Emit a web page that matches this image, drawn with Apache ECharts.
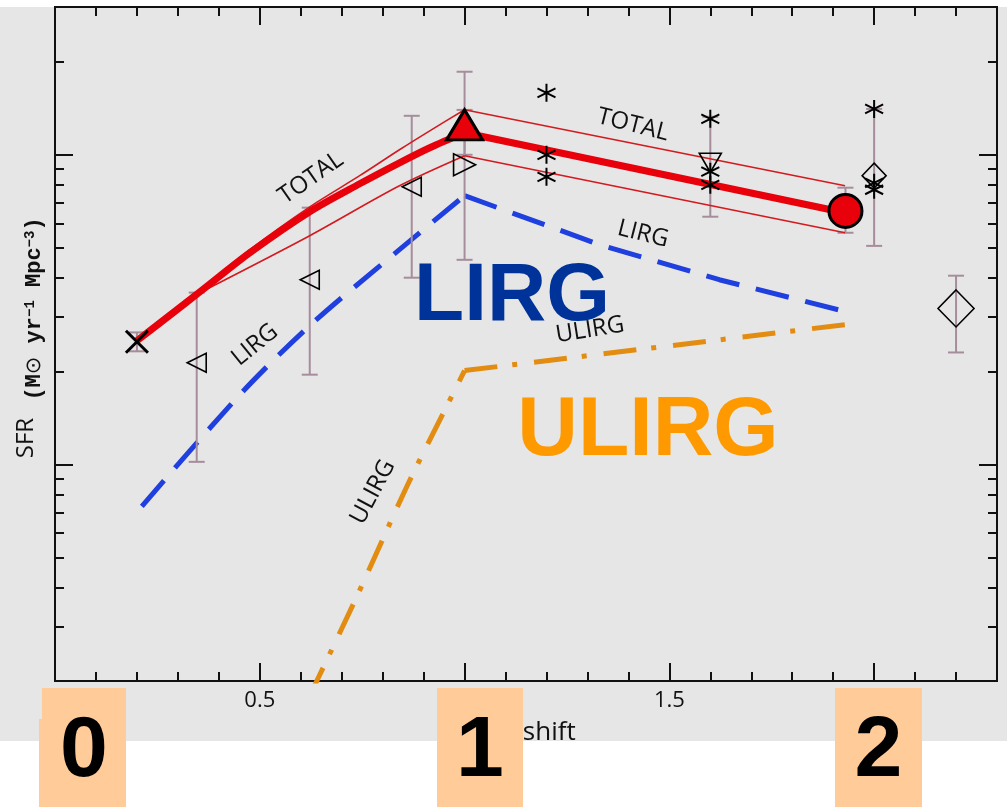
<!DOCTYPE html>
<html>
<head>
<meta charset="utf-8">
<script src="https://cdn.jsdelivr.net/npm/echarts@6/dist/echarts.min.js"></script>
<style>
  html, body { margin: 0; padding: 0; background: #ffffff; }
  #chart { width: 1007px; height: 807px; }
</style>
</head>
<body>
<div id="chart"></div>
<script>
// ---- axes -------------------------------------------------------------
const xRange = [0, 2.3];
const xMajorTicks = [0, 0.5, 1, 1.5, 2];
const xLabelTicks = [0.5, 1.5];
const xTickLabels = ['0.5', '1.5'];
const xMinorTicks = [0.1, 0.2, 0.3, 0.4, 0.6, 0.7, 0.8, 0.9, 1.1, 1.2, 1.3, 1.4,
                     1.6, 1.7, 1.8, 1.9, 2.1, 2.2];
const yRange = [0.002, 0.3];
const yMajorTicks = [0.01, 0.1];
const yMinorTicks = [0.003, 0.004, 0.005, 0.006, 0.007, 0.008, 0.009,
                     0.02, 0.03, 0.04, 0.05, 0.06, 0.07, 0.08, 0.09, 0.2];

// ---- model curves (redshift, SFR density) -----------------------------
const totalZ   = [0.2, 0.28, 0.354, 0.476, 0.622, 0.744, 0.841, 0.915, 1.0, 1.929];
const totalSFR = [0.0251, 0.0303, 0.0361, 0.0483, 0.0655, 0.0806, 0.0942, 0.1054, 0.1178, 0.0650];

const totalHiZ   = [0.354, 0.476, 0.622, 0.744, 0.841, 0.915, 1.0, 1.929];
const totalHiSFR = [0.0364, 0.0494, 0.0679, 0.0856, 0.1038, 0.1195, 0.1397, 0.0794];

const totalLoZ   = [0.354, 0.622, 0.841, 1.0, 1.929];
const totalLoSFR = [0.0359, 0.0548, 0.0794, 0.0993, 0.0560];

const lirgZ   = [0.212, 0.456, 0.63, 0.841, 1.0, 1.329, 1.622, 1.92];
const lirgSFR = [0.00733, 0.01706, 0.0287, 0.0494, 0.0738, 0.0513, 0.0395, 0.0314];

const ulirgZ   = [0.62, 0.737, 0.859, 0.956, 1.0, 1.93];
const ulirgSFR = [0.00177, 0.00375, 0.00849, 0.01538, 0.0201, 0.0283];

// ---- measurements -------------------------------------------------------
const crossZ = [0.2],  crossSFR = [0.0249], crossLo = [0.0232], crossHi = [0.0267];
const leftTriZ = [0.346, 0.622, 0.871];
const leftTriSFR = [0.0213, 0.0395, 0.0788];
const leftTriLo  = [0.0102, 0.0195, 0.0401];
const leftTriHi  = [0.0359, 0.0675, 0.1336];
const rightTriZ = [1.0], rightTriSFR = [0.0929], rightTriLo = [0.0458], rightTriHi = [0.1854];
const redTriZ = [1.0],   redTriSFR = [0.125],    redTriLo = [0.100],    redTriHi = [0.1396];
const downTriZ = [1.6],  downTriSFR = [0.0942],  downTriLo = [0.0631],  downTriHi = [0.1327];
const redDotZ = [1.93],  redDotSFR = [0.0659],   redDotLo = [0.0560],   redDotHi = [0.0783];
const diamondZ = [2.0],  diamondSFR = [0.0856],  diamondLo = [0.0508],  diamondHi = [0.1406];
const bigDiamondZ = [2.2], bigDiamondSFR = [0.0319], bigDiamondLo = [0.0230], bigDiamondHi = [0.0407];
const starZ   = [1.2, 1.2, 1.2, 1.6, 1.6, 1.6, 2.0, 2.0, 2.0];
const starSFR = [0.1585, 0.1, 0.0849, 0.1306, 0.0882, 0.080, 0.1406, 0.0812, 0.0771];

// ---- helpers -------------------------------------------------------------
const zip = (xs, ys) => xs.map((x, i) => [x, ys[i]]);
const bars = (xs, lo, hi) => xs.map((x, i) => [x, lo[i], hi[i]]);
// split a curve at the z = 1 turnover: the rising branch is drawn smooth
const rising  = d => d.filter(p => p[0] <= 1);
const falling = d => d.filter(p => p[0] >= 1);
const L10 = Math.log10;
const INK = '#111111';
const RED = '#e8000b';
const BAR = '#a68d9c';

function xTickAxis(position, ticks, len, extra) {
  return Object.assign({
    type: 'value', position: position, min: xRange[0], max: xRange[1],
    axisLine: { show: true, onZero: false, lineStyle: { color: INK, width: 2 } },
    axisTick: { show: true, inside: true, length: len, customValues: ticks,
                lineStyle: { color: INK, width: 2 } },
    axisLabel: { show: false },
    splitLine: { show: false }
  }, extra || {});
}
function yTickAxis(position, ticks, len, showLine) {
  return {
    type: 'value', position: position, min: L10(yRange[0]), max: L10(yRange[1]),
    axisLine: { show: showLine, onZero: false, lineStyle: { color: INK, width: 2 } },
    axisTick: { show: true, inside: true, length: len, customValues: ticks.map(L10),
                lineStyle: { color: INK, width: 2 } },
    axisLabel: { show: false },
    splitLine: { show: false }
  };
}

const barSeries = {
  type: 'custom',
  z: 3,
  silent: true,
  encode: { x: 0, y: [1, 2] },
  data: [].concat(
    bars(crossZ, crossLo, crossHi),
    bars(leftTriZ, leftTriLo, leftTriHi),
    bars(rightTriZ, rightTriLo, rightTriHi),
    bars(redTriZ, redTriLo, redTriHi),
    bars(downTriZ, downTriLo, downTriHi),
    bars(redDotZ, redDotLo, redDotHi),
    bars(diamondZ, diamondLo, diamondHi),
    bars(bigDiamondZ, bigDiamondLo, bigDiamondHi)
  ),
  renderItem: function (params, api) {
    const lo = api.coord([api.value(0), api.value(1)]);
    const hi = api.coord([api.value(0), api.value(2)]);
    const cap = 8;
    const st = { stroke: BAR, lineWidth: 2 };
    return {
      type: 'group',
      children: [
        { type: 'line', shape: { x1: lo[0], y1: lo[1], x2: hi[0], y2: hi[1] }, style: st },
        { type: 'line', shape: { x1: lo[0] - cap, y1: lo[1], x2: lo[0] + cap, y2: lo[1] }, style: st },
        { type: 'line', shape: { x1: hi[0] - cap, y1: hi[1], x2: hi[0] + cap, y2: hi[1] }, style: st }
      ]
    };
  }
};

function curve(data, color, width, type, z, smooth) {
  return {
    type: 'line', data: data, showSymbol: false, symbol: 'none', z: z, silent: true,
    smooth: smooth || false,
    lineStyle: { color: color, width: width, type: type, cap: 'butt', join: 'round' }
  };
}
function branches(data, color, width, type, z) {
  return [
    curve(rising(data), color, width, type, z, 0.3),
    curve(falling(data), color, width, type, z, false)
  ];
}
function marks(data, symbol, size, rotate, fill, stroke, bw) {
  return {
    type: 'scatter', data: data, symbol: symbol, symbolSize: size, symbolRotate: rotate,
    z: 6, silent: true,
    itemStyle: { color: fill, borderColor: stroke, borderWidth: bw, opacity: 1 }
  };
}

const CROSS = 'path://M0,0L10,10M10,0L0,10';
const STAR  = 'path://M5,0L5,10M0.7,2.5L9.3,7.5M0.7,7.5L9.3,2.5';

const labelFont = '"Open Sans", "DejaVu Sans", sans-serif';
function note(text, x, y, deg) {
  return {
    type: 'text', x: x, y: y, rotation: deg * Math.PI / 180, z: 20, silent: true,
    style: { text: text, fill: INK, font: '24px ' + labelFont, align: 'center', verticalAlign: 'middle' }
  };
}
function digitBox(label, x, w) {
  return [
    { type: 'rect', z: 60, silent: true, shape: { x: x, y: 688, width: w, height: 119 },
      style: { fill: '#ffcc99' } },
    { type: 'text', z: 61, silent: true, x: x + w / 2, y: 752,
      style: { text: label, fill: '#000', font: 'bold 86px "Liberation Sans", Arial, sans-serif',
               align: 'center', verticalAlign: 'middle' } }
  ];
}

const option = {
  animation: false,
  backgroundColor: '#ffffff',
  grid: { left: 55, right: 10, top: 7, bottom: 126, containLabel: false },
  xAxis: [
    xTickAxis('bottom', xMajorTicks, 18, {
      axisLabel: {
        show: true, customValues: xLabelTicks, margin: 9,
        color: '#111', fontFamily: labelFont, fontSize: 22,
        formatter: v => xTickLabels[xLabelTicks.findIndex(t => Math.abs(t - v) < 1e-9)]
      },
      name: 'Redshift', nameLocation: 'middle', nameGap: 39,
      nameTextStyle: { color: '#111', fontFamily: labelFont, fontSize: 26 }
    }),
    xTickAxis('bottom', xMinorTicks, 9),
    xTickAxis('top', xMajorTicks, 18),
    xTickAxis('top', xMinorTicks, 9)
  ],
  yAxis: [
    {
      type: 'log', logBase: 10, position: 'left', min: yRange[0], max: yRange[1],
      axisLine: { show: true, onZero: false, lineStyle: { color: INK, width: 2 } },
      axisTick: { show: false }, axisLabel: { show: false }, splitLine: { show: false }
    },
    yTickAxis('left', yMajorTicks, 18, false),
    yTickAxis('left', yMinorTicks, 9, false),
    yTickAxis('right', yMajorTicks, 18, true),
    yTickAxis('right', yMinorTicks, 9, false)
  ],
  series: [].concat(
    [barSeries],
    branches(zip(ulirgZ, ulirgSFR), '#e38c12', 5, [33, 15, 5, 17], 2),
    branches(zip(lirgZ, lirgSFR), '#1f3fdf', 5, [34, 17], 2),
    branches(zip(totalHiZ, totalHiSFR), '#d41a1f', 1.6, 'solid', 4),
    branches(zip(totalLoZ, totalLoSFR), '#d41a1f', 1.6, 'solid', 4),
    branches(zip(totalZ, totalSFR), RED, 7, 'solid', 4),
    [
      marks(zip(crossZ, crossSFR), CROSS, 22, 0, 'transparent', '#000', 3),
      marks(zip(leftTriZ, leftTriSFR), 'triangle', 19, 90, 'transparent', '#000', 1.6),
      marks(zip(rightTriZ, rightTriSFR), 'triangle', 22, -90, 'transparent', '#000', 1.6),
      marks(zip(downTriZ, downTriSFR), 'triangle', [22, 19], 180, 'transparent', '#000', 1.6),
      marks(zip(diamondZ, diamondSFR), 'diamond', [24, 25], 0, 'transparent', '#000', 1.6),
      marks(zip(bigDiamondZ, bigDiamondSFR), 'diamond', [36, 37], 0, 'transparent', '#000', 1.6),
      marks(zip(starZ, starSFR), STAR, 18, 0, 'transparent', '#000', 2),
      marks(zip(redTriZ, redTriSFR), 'triangle', [36, 30], 0, RED, '#000', 3),
      marks(zip(redDotZ, redDotSFR), 'circle', 33, 0, RED, '#000', 3)
    ]
  ),
  graphic: [].concat(
    [
      { type: 'rect', z: -10, silent: true, shape: { x: 0, y: 7, width: 1007, height: 734 },
        style: { fill: '#e6e6e6' } },
      // axis title on the left
      { type: 'text', z: 20, silent: true, x: 26, y: 438, rotation: Math.PI / 2,
        style: { text: 'SFR', fill: INK, font: '24px ' + labelFont, align: 'center', verticalAlign: 'middle' } },
      { type: 'text', z: 20, silent: true, x: 34, y: 309, rotation: Math.PI / 2,
        style: {
          text: '{m|(M}{o|\u2299}{m| yr}{s|\u22121}{m| Mpc}{s|\u22123}{m|)}',
          align: 'center', verticalAlign: 'middle', fill: INK,
          rich: {
            m: { font: 'bold 22px "Liberation Mono", monospace', fill: INK, verticalAlign: 'bottom' },
            o: { font: '21px "DejaVu Sans", sans-serif', fill: INK, verticalAlign: 'bottom' },
            s: { font: 'bold 14px "Liberation Mono", monospace', fill: INK, verticalAlign: 'top' }
          }
        } },
      note('TOTAL', 311, 178, 35),
      note('TOTAL', 633, 125, -14),
      note('LIRG', 255, 345, 39),
      note('LIRG', 643, 234, -14),
      note('ULIRG', 373, 492, 62),
      note('ULIRG', 590, 330, 9),
      { type: 'text', z: 30, silent: true, x: 512, y: 297,
        style: { text: 'LIRG', fill: '#003399', font: 'bold 82px "Liberation Sans", Arial, sans-serif',
                 align: 'center', verticalAlign: 'middle' } },
      { type: 'text', z: 30, silent: true, x: 648, y: 432,
        style: { text: 'ULIRG', fill: '#ff9900', font: 'bold 84px "Liberation Sans", Arial, sans-serif',
                 align: 'center', verticalAlign: 'middle' } },
      { type: 'rect', z: 50, silent: true, shape: { x: 0, y: 741, width: 1007, height: 66 },
        style: { fill: '#ffffff' } },
      { type: 'rect', z: 60, silent: true, shape: { x: 39, y: 719, width: 87, height: 88 },
        style: { fill: '#ffcc99' } }
    ],
    digitBox('0', 42, 84),
    digitBox('1', 437, 86),
    digitBox('2', 835, 87)
  )
};

const chart = echarts.init(document.getElementById('chart'), null, { renderer: 'canvas' });
chart.setOption(option);
</script>
</body>
</html>
